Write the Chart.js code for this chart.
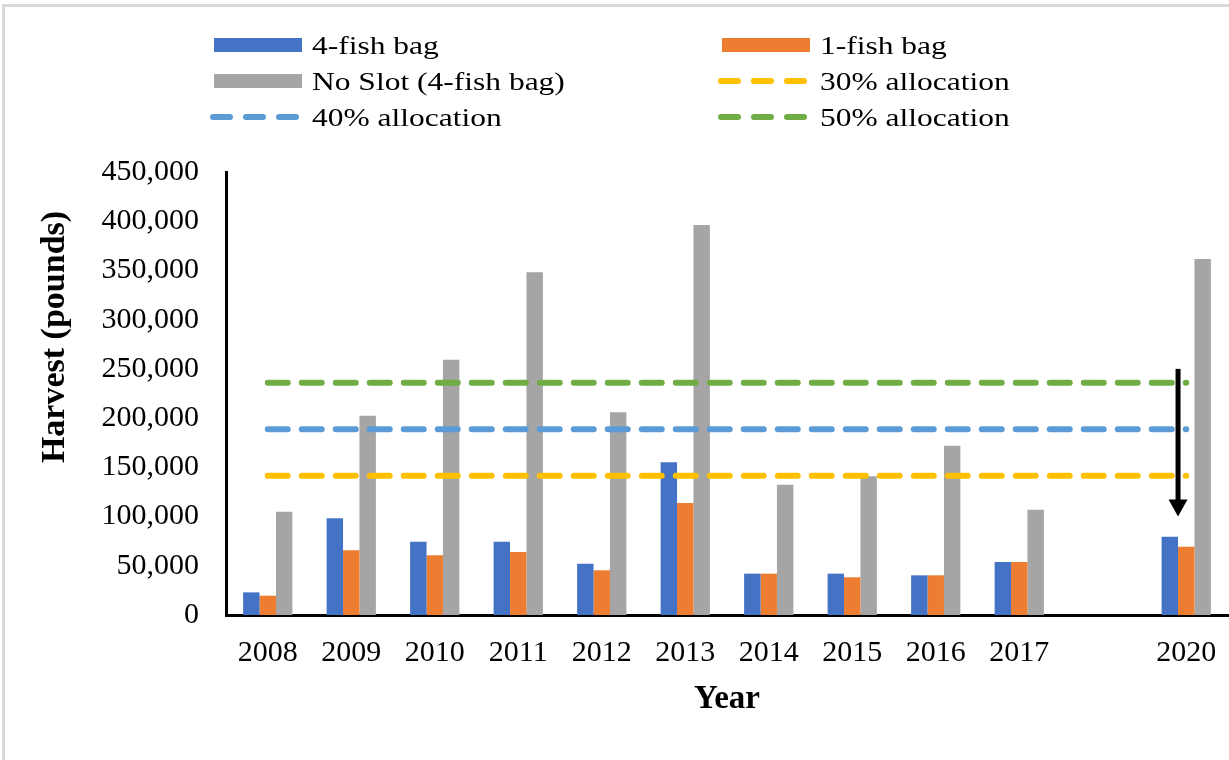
<!DOCTYPE html>
<html>
<head>
<meta charset="utf-8">
<script src="https://cdn.jsdelivr.net/npm/chart.js@4.4.1/dist/chart.umd.min.js"></script>
<style>
html, body { margin: 0; padding: 0; background: #fff; overflow: hidden; }
#wrap { position: relative; width: 1229px; height: 760px; }
#frame { position: absolute; left: 2px; top: 4px; right: -10px; bottom: -10px;
         border-left: 3px solid #d9d9d9; border-top: 3px solid #d9d9d9; pointer-events: none; }
#preload { position: absolute; left: -9999px; top: 0; font-family: "Liberation Serif"; }
</style>
</head>
<body>
<div id="preload"><span>450,000 Harvest</span><b>Year Harvest</b></div>
<div id="wrap"><canvas id="c"></canvas><div id="frame"></div></div>
<script>
// ---- data ----
const years = ['2008', '2009', '2010', '2011', '2012', '2013', '2014', '2015', '2016', '2017', '', '2020'];
const fourFishBag = [23000, 98200, 74500, 74500, 52100, 155100, 42000, 42000, 40300, 53800, null, 79500];
const oneFishBag  = [19600, 65700, 60600, 64000, 45400, 113800, 42000, 38300, 40300, 53800, null, 69400];
const noSlot      = [104900, 202500, 259400, 348100, 205900, 396200, 132400, 140900, 172000, 107000, null, 361600];
const barLabels = ['4-fish bag', '1-fish bag', 'No Slot (4-fish bag)'];
const allocationLabels = ['30% allocation', '40% allocation', '50% allocation'];
const allocationValues = [141500, 188700, 235800];
const yMin = 0, yMax = 450000, yStep = 50000;
const arrowYear = '2020', arrowFrom = 250000, arrowTo = 100000;

// ---- styles ----
const barColors = ['#4472C4', '#ED7D31', '#A5A5A5'];
const lineColors = ['#FFC000', '#5B9BD5', '#70AD47'];
const FONT = '"Liberation Serif", "Times New Roman", serif';

const barSeries = [fourFishBag, oneFishBag, noSlot];
const datasets = [];
barSeries.forEach((vals, i) => {
  datasets.push({
    type: 'bar', label: barLabels[i], data: vals,
    backgroundColor: barColors[i], borderWidth: 0,
    categoryPercentage: 0.59, barPercentage: 1.0, order: 1
  });
});
const firstYear = years[0], lastYear = years[years.length - 1];
allocationValues.forEach((v, i) => {
  datasets.push({
    type: 'line', label: allocationLabels[i],
    data: [{ x: firstYear, y: v }, { x: lastYear, y: v }],
    borderColor: lineColors[i], backgroundColor: lineColors[i],
    borderWidth: 6, borderDash: [20, 14], borderCapStyle: 'round',
    pointRadius: 0, fill: false, order: 0
  });
});

const customLegend = {
  id: 'customLegend',
  afterDraw(chart) {
    const ctx = chart.ctx;
    const colX = [214, 722], rowY = [45, 81, 117];
    ctx.save();
    chart.data.datasets.forEach((ds, i) => {
      const x = colX[i % 2], y = rowY[Math.floor(i / 2)];
      if (ds.type === 'line') {
        ctx.strokeStyle = ds.borderColor; ctx.lineWidth = 6; ctx.lineCap = 'round';
        ctx.setLineDash([17, 16]);
        ctx.beginPath(); ctx.moveTo(x - 1, y); ctx.lineTo(x + 85, y); ctx.stroke();
        ctx.setLineDash([]);
      } else {
        ctx.fillStyle = ds.backgroundColor; ctx.fillRect(x, y - 7, 88, 14);
      }
      ctx.save();
      ctx.translate(x + 98, y + 9);
      ctx.scale(1.26, 1);
      ctx.font = '25px ' + FONT; ctx.fillStyle = '#000';
      ctx.textAlign = 'left'; ctx.textBaseline = 'alphabetic';
      ctx.fillText(ds.label, 0, 0);
      ctx.restore();
    });
    // y axis title
    ctx.save();
    ctx.translate(64, 337);
    ctx.rotate(-Math.PI / 2);
    ctx.font = 'bold 34px ' + FONT; ctx.fillStyle = '#000';
    ctx.textAlign = 'center'; ctx.textBaseline = 'alphabetic';
    ctx.fillText('Harvest (pounds)', 0, 0);
    ctx.restore();
    ctx.restore();
  }
};

const arrowPlugin = {
  id: 'arrow',
  afterDatasetsDraw(chart) {
    const ctx = chart.ctx;
    const idx = years.indexOf(arrowYear);
    const bar = chart.getDatasetMeta(0).data[idx];
    if (!bar) return;
    const x = bar.x + bar.width / 2;
    const ys = chart.scales.y;
    const y1 = ys.getPixelForValue(arrowFrom), y2 = ys.getPixelForValue(arrowTo);
    ctx.save();
    ctx.fillStyle = '#000';
    ctx.fillRect(x - 2.5, y1, 5, (y2 - y1) - 15);
    ctx.beginPath();
    ctx.moveTo(x - 9.5, y2 - 17); ctx.lineTo(x + 9.5, y2 - 17); ctx.lineTo(x, y2);
    ctx.closePath(); ctx.fill();
    ctx.restore();
  }
};

function build() {
  new Chart(document.getElementById('c'), {
    type: 'bar',
    data: { labels: years, datasets },
    options: {
      responsive: true, maintainAspectRatio: false, animation: false,
      layout: { padding: { top: 172, left: 0, right: 1, bottom: 0 } },
      plugins: { legend: { display: false }, tooltip: { enabled: false } },
      scales: {
        x: {
          grid: { display: false, drawTicks: false },
          border: { display: true, color: '#000', width: 3 },
          ticks: { color: '#000', font: { family: FONT, size: 30 }, padding: 20, autoSkip: false, maxRotation: 0 },
          title: { display: true, text: 'Year', color: '#000',
                   font: { family: FONT, size: 33, weight: 'bold' }, padding: { top: 8, bottom: 41 } },
          afterFit: s => { s.height = 145; s.paddingLeft = 0; s.paddingRight = 0; }
        },
        y: {
          min: yMin, max: yMax,
          grid: { display: false, drawTicks: false },
          border: { display: true, color: '#000', width: 3 },
          ticks: { stepSize: yStep, color: '#000', font: { family: FONT, size: 30 }, padding: 27,
                   callback: v => v.toLocaleString('en-US') },
          afterFit: s => { s.width = 226; }
        }
      }
    },
    plugins: [customLegend, arrowPlugin]
  });
}

Promise.all([
  document.fonts.load('30px "Liberation Serif"'),
  document.fonts.load('bold 34px "Liberation Serif"')
]).then(build, build);
</script>
</body>
</html>
